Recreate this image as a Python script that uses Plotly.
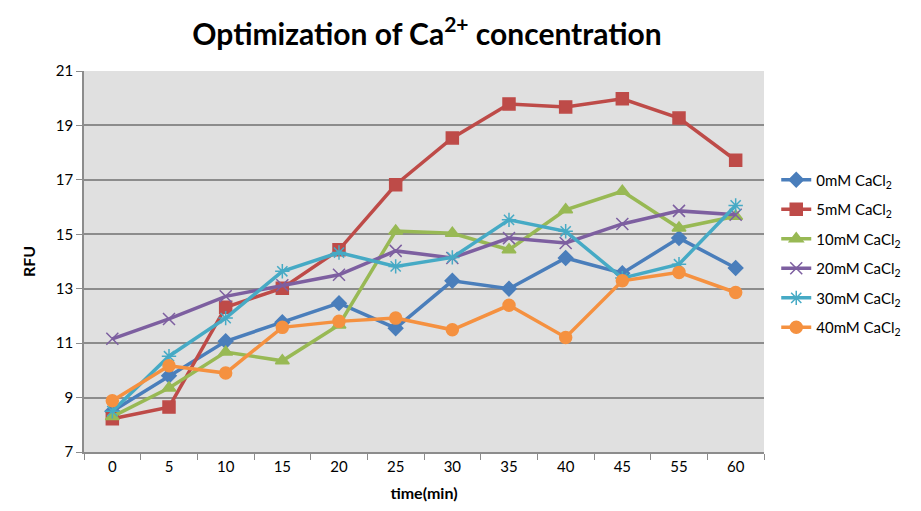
import plotly.graph_objects as go

time_labels = ["0", "5", "10", "15", "20", "25", "30", "35", "40", "45", "55", "60"]

ca_0mM = [8.5, 9.8, 11.07, 11.77, 12.47, 11.55, 13.29, 13.0, 14.13, 13.57, 14.86, 13.76]
ca_5mM = [8.22, 8.65, 12.32, 13.02, 14.43, 16.82, 18.54, 19.79, 19.68, 19.98, 19.27, 17.72]
ca_10mM = [8.3, 9.35, 10.67, 10.35, 11.67, 15.12, 15.04, 14.43, 15.9, 16.58, 15.23, 15.66]
ca_20mM = [11.16, 11.89, 12.72, 13.13, 13.51, 14.39, 14.13, 14.86, 14.68, 15.38, 15.86, 15.72]
ca_30mM = [8.5, 10.52, 11.92, 13.64, 14.33, 13.82, 14.15, 15.53, 15.11, 13.39, 13.9, 16.06]
ca_40mM = [8.88, 10.17, 9.9, 11.58, 11.8, 11.92, 11.49, 12.39, 11.21, 13.29, 13.6, 12.86]

series_names = ["0mM CaCl<sub>2</sub>", "5mM CaCl<sub>2</sub>", "10mM CaCl<sub>2</sub>",
                "20mM CaCl<sub>2</sub>", "30mM CaCl<sub>2</sub>", "40mM CaCl<sub>2</sub>"]
series_values = [ca_0mM, ca_5mM, ca_10mM, ca_20mM, ca_30mM, ca_40mM]
colors = ["#4A7EBB", "#BE4B48", "#98B954", "#7D5FA0", "#46AAC5", "#F59140"]
symbols = ["diamond", "square", "triangle-up", "x-thin-open", "asterisk-open", "circle"]
sizes = [11, 12, 12, 12, 12, 12]

FONT = "Lato"

fig = go.Figure()
for name, vals, c, s, sz in zip(series_names, series_values, colors, symbols, sizes):
    fig.add_trace(go.Scatter(
        x=time_labels, y=vals, name=name, mode="lines+markers",
        line=dict(color=c, width=3.5),
        marker=dict(symbol=s, size=sz, color=c, line=dict(color=c, width=1.5)),
        legendgroup=name,
    ))

fig.update_layout(
    width=921, height=511,
    margin=dict(l=76, r=165, t=63, b=67),
    paper_bgcolor="white",
    plot_bgcolor="#E0E0E0",
    title=dict(text="Optimization of Ca<sup>2+</sup> concentration",
               font=dict(family=FONT, size=30, color="black", weight="bold"),
               x=0.455, xanchor="center", y=0.948, yanchor="middle"),
    font=dict(family=FONT, color="black"),
    legend=dict(x=1.018, y=0.757, xanchor="left", yanchor="top",
                font=dict(family=FONT, size=15, color="black"),
                tracegroupgap=7, bgcolor="rgba(0,0,0,0)"),
    showlegend=True,
)

fig.update_xaxes(
    type="category", categoryorder="array", categoryarray=time_labels,
    title=dict(text="time(min)", font=dict(size=16, weight="bold"), standoff=14),
    showgrid=False, showline=True, linecolor="#8C8C8C", linewidth=1.5,
    ticks="outside", tickson="boundaries", ticklen=6, tickcolor="#8C8C8C",
    tickfont=dict(size=15), range=[-0.5, 11.5],
)
fig.update_yaxes(
    range=[7, 21], dtick=2, tick0=7,
    title=dict(text="RFU", font=dict(size=16, weight="bold"), standoff=16),
    showgrid=True, gridcolor="#8C8C8C", gridwidth=1.5,
    showline=True, linecolor="#8C8C8C", linewidth=1.5,
    ticks="outside", ticklen=6, tickcolor="#8C8C8C",
    tickfont=dict(size=15), zeroline=False,
)

fig.write_html("out.html")
